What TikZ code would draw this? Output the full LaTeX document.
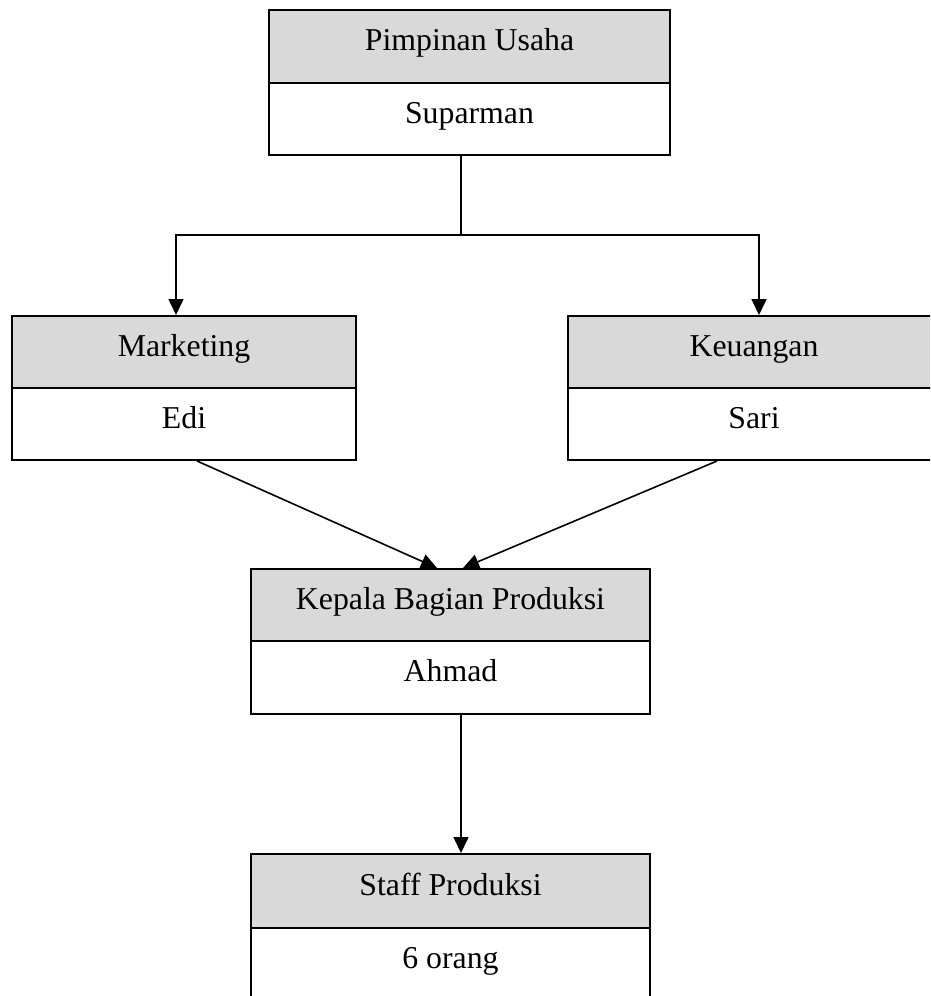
\documentclass[tikz,border=0pt]{standalone}
\usepackage{fontspec}
\setmainfont{Liberation Serif}
\usetikzlibrary{arrows.meta}
\definecolor{headgray}{RGB}{217,217,217}
\tikzset{
  head/.style={draw, rectangle, line width=2pt, fill=headgray, inner sep=0pt,
    text height=20pt, text depth=12pt, font=\fontsize{31.8}{38}\selectfont},
  body/.style={head, fill=white},
  link/.style={line width=1.6pt},
  arr/.style={link, -{Triangle[length=16pt,width=15pt]}}
}
\begin{document}
\begin{tikzpicture}[x=1pt,y=-1pt]
      \useasboundingbox (0,0) rectangle (930,996);
      \clip (0,0) rectangle (930,996);
      % pimpinan
      \node[head, minimum width=401pt, minimum height=73pt] (pimHead) at (469.5,46.5) {Pimpinan Usaha};
      \node[body, minimum width=401pt, minimum height=72pt] (pimBody) at (469.5,119) {Suparman};
      % marketing and keuangan
      \node[head, minimum width=344pt, minimum height=72pt] (mktHead) at (184,352) {Marketing};
      \node[body, minimum width=344pt, minimum height=72pt] (mktBody) at (184,424) {Edi};
      \node[head, minimum width=372pt, minimum height=72pt] (keuHead) at (754,352) {Keuangan};
      \node[body, minimum width=372pt, minimum height=72pt] (keuBody) at (754,424) {Sari};
      % produksi
      \node[head, minimum width=399pt, minimum height=72pt] (kbpHead) at (450.5,605) {Kepala Bagian Produksi};
      \node[body, minimum width=399pt, minimum height=73pt] (kbpBody) at (450.5,677.5) {Ahmad};
      \node[head, minimum width=399pt, minimum height=74pt] (stfHead) at (450.5,891) {Staff Produksi};
      \node[body, minimum width=399pt, minimum height=72pt] (stfBody) at (450.5,964) {6 orang};
      \coordinate (split) at (461,235);
      \begin{scope}[link]
        \draw (split |- pimBody.south) -- (split);
        \draw[arr] (split) -| ([xshift=-8pt]mktHead.north);
        \draw[arr] (split) -| ([xshift=5pt]keuHead.north);
        \draw[arr] ([xshift=13pt]mktBody.south) -- ([xshift=-13.5pt]kbpHead.north);
        \draw[arr] ([xshift=-37pt]keuBody.south) -- ([xshift=12.5pt]kbpHead.north);
        \draw[arr] ([xshift=10.5pt]kbpBody.south) -- ([xshift=10.5pt]stfHead.north);
      \end{scope}
    \end{tikzpicture}
\end{document}
